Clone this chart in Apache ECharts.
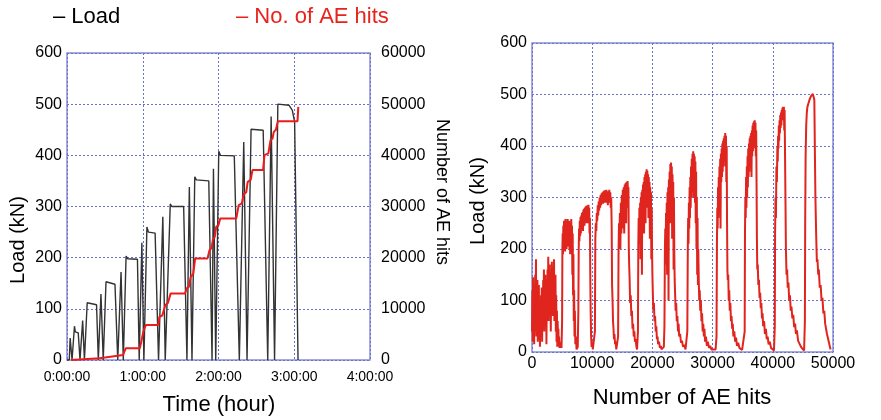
<!DOCTYPE html>
<html>
<head>
<meta charset="utf-8">
<script src="https://cdn.jsdelivr.net/npm/echarts@6/dist/echarts.min.js"></script>
<style>
html,body{margin:0;padding:0;background:#fff;}
#mybox{width:881px;height:420px;}
</style>
</head>
<body>
<div id="mybox"></div>
<script>
/* load & AE hits vs time (left), load vs AE hits (right) */

// left chart: time in minutes
var timeTicks = [0, 60, 120, 180, 240];
var loadCurve = [
  [0,0],[1.8,0],[2.5,43],[4.0,0],[5.9,66],[6.6,55],[8.9,53],[10.3,0],[12.4,77],[13.8,0],
  [16.0,112],[17.0,110],[23.4,108],[24.8,0],[26.9,129],[28.7,0],[30.9,153],[32.0,150],[38.0,148],[40.2,0],
  [42.8,172],[44.6,0],[46.8,203],[48.0,198],[55.8,197],[57.2,0],[59.3,229],[60.9,0],[63.3,260],[64.5,250],
  [69.8,248],[72.5,0],[75.9,280],[77.8,0],[81.8,305],[83.0,300],[92.4,300],[95.0,0],[96.9,338],[99.0,0],
  [101.2,358],[102.5,352],[112.3,350],[114.9,0],[116.0,374],[117.8,0],[120.2,408],[121.5,400],[132.5,399],[136.5,0],
  [140.0,426],[142.6,0],[145.8,451],[155.4,449],[159.0,0],[161.7,476],[164.4,0],[167.0,500],[175.8,498],[178.5,488],
  [180.3,465],[183.0,0]
];
var hitsCurve = [
  [3.3,0],[25.9,330],[44.4,980],[45.2,1500],[46.6,2300],[57.7,2300],[58.6,3300],[60.5,5600],[62.5,6840],[72.3,6840],
  [73.2,8460],[75.5,8700],[76.3,9440],[78.0,10740],[80.0,11200],[82.1,13020],[93.5,13020],[94.9,14000],[96.5,14300],[98.0,16270],
  [100.0,16800],[101.5,19860],[111.3,19860],[112.9,21480],[114.5,21900],[115.6,23570],[117.0,24000],[118.2,26040],[120.0,26400],[121.4,27670],
  [134.1,27670],[136.0,30270],[138.5,30600],[140.0,32420],[142.0,32800],[143.1,34830],[145.5,35200],[146.9,37110],[155.3,37110],[156.4,40040],
  [159.5,40400],[161.2,42970],[162.8,43300],[163.8,44590],[165.5,45000],[167.0,46680],[182.6,46680],[183.2,49470]
];

// right chart: [number of AE hits, load kN]
var loadVsHits = [
  [0,40],[60,120],[120,20],[180,145],[240,60],[300,110],[360,15],[420,130],[480,40],[540,150],[600,70],[660,180],[720,30],[780,120],
  [840,50],[900,140],[960,20],[1020,100],[1080,60],[1140,130],[1200,25],[1260,90],[1320,10],[1380,80],[1440,30],[1500,110],[1560,45],
  [1620,125],[1680,20],[1740,95],[1800,50],[1860,140],[1920,70],[1980,160],[2040,40],[2100,120],[2160,80],[2220,150],[2280,60],[2340,130],
  [2400,15],[2460,110],[2520,70],[2580,160],[2640,90],[2700,185],[2760,60],[2820,140],[2880,100],[2940,170],[3000,80],[3060,150],[3120,40],
  [3180,120],[3240,90],[3300,175],[3360,110],[3420,165],[3480,70],[3540,140],[3600,100],[3660,180],[3720,60],[3780,130],[3840,90],[3900,150],
  [3960,40],[4020,110],[4080,20],[4140,80],[4200,10],[4260,60],[4320,25],[4380,45],[4440,12],[4500,30],[4560,8],[4620,20],[4700,10],
  [4800,15],[4900,8],[5000,60],[5050,200],[5100,230],[5150,190],[5200,245],[5260,200],[5320,255],[5380,210],[5440,250],[5500,195],[5560,258],
  [5620,215],[5680,250],[5740,200],[5800,255],[5860,220],[5920,258],[5980,205],[6040,250],[6100,215],[6160,255],[6220,200],[6280,245],
  [6340,190],[6400,250],[6460,215],[6520,258],[6580,210],[6640,245],[6700,150],[6760,230],[6820,110],[6880,190],[6940,60],[7000,120],
  [7060,30],[7120,80],[7200,15],[7300,30],[7400,5],
  [7600,10],[7700,80],[7760,200],[7820,240],[7880,215],[7940,255],[8000,225],[8060,262],[8120,230],[8180,265],[8240,240],[8300,270],
  [8360,245],[8420,272],[8480,235],[8540,276],[8600,250],[8660,278],[8720,245],[8780,280],[8840,255],[8900,282],[8960,250],[9020,284],
  [9080,260],[9140,282],[9200,250],[9260,285],[9320,265],[9380,286],[9440,255],[9500,280],[9560,230],[9620,260],[9680,150],[9740,80],
  [9820,30],[9900,10],[10000,20],[10100,5],
  [10300,5],[10450,40],[10520,220],[10600,250],[10680,235],[10760,270],[10840,255],[10920,285],[11000,265],[11080,292],[11160,275],
  [11240,300],[11320,280],[11400,305],[11480,285],[11560,308],[11640,290],[11720,310],[11800,288],[11880,312],[11960,292],[12040,314],
  [12120,290],[12200,312],[12280,295],[12360,315],[12440,290],[12520,310],[12600,285],[12680,312],[12760,295],[12840,315],[12920,290],
  [13000,310],[13080,280],[13160,300],[13240,240],[13300,130],[13380,100],[13460,60],[13540,45],[13620,25],[13700,35],[13800,15],
  [13900,20],[14000,5],[14100,8],
  [14200,5],[14300,30],[14380,200],[14450,250],[14520,220],[14600,270],[14680,200],[14760,290],[14840,230],[14920,305],[15000,240],
  [15080,315],[15160,260],[15240,320],[15320,230],[15400,325],[15480,270],[15560,328],[15640,250],[15720,330],[15800,280],[15880,332],
  [15960,300],[16020,320],[16080,200],[16140,170],[16220,140],[16300,95],[16400,110],[16500,70],[16600,80],[16700,45],[16800,55],
  [16900,30],[17000,40],[17100,20],[17200,25],[17350,10],[17450,5],
  [17500,8],[17600,40],[17660,210],[17720,260],[17780,220],[17840,280],[17900,210],[17960,290],[18020,180],[18080,300],[18140,240],
  [18200,310],[18260,150],[18320,315],[18380,250],[18440,325],[18500,260],[18560,330],[18620,230],[18680,340],[18740,270],[18800,345],
  [18860,250],[18920,350],[18980,290],[19040,355],[19100,280],[19160,352],[19220,300],[19280,345],[19340,260],[19400,340],[19460,280],
  [19520,330],[19580,220],[19640,320],[19700,250],[19760,310],[19820,180],[19880,280],[19940,200],[20000,150],[20060,120],[20150,80],
  [20250,95],[20350,60],[20450,70],[20550,40],[20650,50],[20750,25],[20850,30],[20950,15],[21100,20],[21250,8],[21400,12],[21500,5],
  [21900,10],[22000,50],[22080,200],[22140,240],[22200,170],[22260,270],[22320,200],[22380,290],[22440,150],[22500,310],[22560,230],
  [22620,320],[22680,100],[22740,335],[22800,260],[22860,350],[22920,280],[22980,365],[23040,250],[23100,368],[23160,300],[23220,360],
  [23280,220],[23340,345],[23400,270],[23460,330],[23520,160],[23580,300],[23640,190],[23700,140],[23780,110],[23860,80],[23950,95],
  [24050,60],[24150,70],[24250,40],[24350,55],[24450,30],[24600,35],[24750,18],[24900,22],[25100,10],[25300,14],[25500,5],[25650,3],
  [25700,5],[25800,40],[25880,200],[25940,260],[26000,210],[26060,290],[26120,240],[26180,320],[26240,260],[26300,340],[26360,280],
  [26420,360],[26480,300],[26540,375],[26600,310],[26660,385],[26720,330],[26780,390],[26840,300],[26900,385],[26960,320],[27020,380],
  [27080,290],[27140,370],[27200,250],[27260,350],[27320,200],[27380,300],[27440,150],[27500,260],[27560,130],[27620,200],[27700,140],
  [27780,100],[27860,120],[27950,80],[28050,100],[28150,60],[28250,75],[28350,40],[28450,55],[28550,30],[28650,45],[28750,20],
  [28900,30],[29050,12],[29200,20],[29400,8],[29600,12],[29800,5],[30000,3],
  [30500,5],[30650,30],[30720,210],[30780,280],[30840,240],[30900,320],[30960,260],[31020,340],[31080,290],[31140,360],[31200,300],
  [31260,375],[31320,240],[31380,385],[31440,330],[31500,395],[31560,340],[31620,405],[31680,350],[31740,410],[31800,360],[31860,415],
  [31920,370],[31980,420],[32040,380],[32100,425],[32160,360],[32220,420],[32280,330],[32340,400],[32400,250],[32460,160],[32520,140],
  [32600,150],[32680,100],[32760,120],[32850,80],[32950,95],[33050,60],[33150,70],[33250,45],[33350,55],[33450,30],[33600,40],
  [33750,20],[33900,28],[34050,12],[34250,18],[34450,8],[34700,10],[34900,4],[35100,2],
  [35200,3],[35330,40],[35380,230],[35440,300],[35500,260],[35560,340],[35620,280],[35680,360],[35740,300],[35800,380],[35860,320],
  [35920,395],[35980,340],[36040,405],[36100,350],[36160,415],[36220,360],[36280,420],[36340,370],[36400,425],[36460,340],[36520,430],
  [36580,380],[36640,440],[36700,390],[36760,445],[36820,400],[36880,448],[36940,410],[37000,450],[37060,395],[37120,445],[37180,380],
  [37240,430],[37300,330],[37360,220],[37420,160],[37500,170],[37600,130],[37700,140],[37800,105],[37900,115],[38000,85],[38100,95],
  [38200,65],[38300,75],[38400,50],[38550,60],[38700,35],[38850,45],[39000,25],[39150,30],[39300,15],[39500,20],[39700,8],[39900,5],
  [40200,3],[40330,50],[40380,230],[40450,300],[40520,260],[40600,360],[40680,330],[40760,400],[40820,370],[40880,420],[40940,395],
  [41000,440],[41060,410],[41120,450],[41180,425],[41240,460],[41300,435],[41360,465],[41420,440],[41480,470],[41540,450],[41600,474],
  [41660,455],[41720,476],[41780,460],[41840,476],[41900,430],[41960,470],[42020,400],[42100,300],[42180,200],[42280,150],[42380,160],
  [42480,125],[42600,135],[42720,100],[42850,110],[42980,80],[43100,88],[43250,65],[43400,72],[43550,48],[43700,55],[43850,35],
  [44000,42],[44200,22],[44400,25],[44600,12],[44800,8],[45000,5],
  [45200,3],[45330,60],[45380,250],[45450,380],[45550,440],[45650,465],[45750,476],[45900,482],[46050,488],[46200,493],[46350,497],
  [46500,500],[46650,501],[46800,500],[46900,490],[47000,380],[47080,300],[47200,230],[47320,175],[47420,180],[47550,150],[47650,160],
  [47800,125],[47950,130],[48100,100],[48250,105],[48400,75],[48550,80],[48700,55],[48850,58],[49000,35],[49150,38],[49300,20],
  [49450,12],[49600,5]
];

var fontName = 'Liberation Sans, Arial, sans-serif';
var frameColor = '#8a8fd6';
var gridColor = '#6a70d0';

function timeLabel(v){
  var h = Math.floor(v / 60);
  var m = v % 60;
  return h + ':' + (m < 10 ? '0' + m : m) + ':00';
}
function plainNum(v){
  return String(v);
}

var mycharts = echarts.init(document.getElementById('mybox'));

var option = {
  animation: false,
  backgroundColor: '#fff',
  textStyle: {fontFamily: fontName},
  grid: [
    {left: 67, top: 53, width: 303, height: 307, show: true, borderColor: frameColor, borderWidth: 1.5, backgroundColor: '#fff'},
    {left: 532, top: 43, width: 301, height: 309, show: true, borderColor: frameColor, borderWidth: 1.5, backgroundColor: '#fff'}
  ],
  xAxis: [
    {
      type: 'value', gridIndex: 0, min: timeTicks[0], max: timeTicks[timeTicks.length - 1], interval: 60,
      axisLine: {show: false}, axisTick: {show: false},
      axisLabel: {formatter: timeLabel, fontSize: 14, color: '#000', margin: 10, fontFamily: fontName},
      splitLine: {show: true, lineStyle: {type: [2, 2], color: gridColor, width: 1}}
    },
    {
      type: 'value', gridIndex: 1, min: 0, max: 50000, interval: 10000,
      axisLine: {show: false}, axisTick: {show: false},
      axisLabel: {formatter: plainNum, fontSize: 16, color: '#000', margin: 4, fontFamily: fontName},
      splitLine: {show: true, lineStyle: {type: [2, 2], color: gridColor, width: 1}}
    }
  ],
  yAxis: [
    {
      type: 'value', gridIndex: 0, min: 0, max: 600, interval: 100,
      axisLine: {show: false}, axisTick: {show: false},
      axisLabel: {formatter: plainNum, fontSize: 16, color: '#000', margin: 5, fontFamily: fontName},
      splitLine: {show: true, lineStyle: {type: [2, 2], color: gridColor, width: 1}}
    },
    {
      type: 'value', gridIndex: 0, position: 'right', min: 0, max: 60000, interval: 10000,
      axisLine: {show: false}, axisTick: {show: false},
      axisLabel: {formatter: plainNum, fontSize: 16, color: '#000', margin: 11, fontFamily: fontName},
      splitLine: {show: false}
    },
    {
      type: 'value', gridIndex: 1, min: 0, max: 600, interval: 100,
      axisLine: {show: false}, axisTick: {show: false},
      axisLabel: {formatter: plainNum, fontSize: 16, color: '#000', margin: 5, fontFamily: fontName},
      splitLine: {show: true, lineStyle: {type: [2, 2], color: gridColor, width: 1}}
    }
  ],
  series: [
    {
      name: 'Load', type: 'line', xAxisIndex: 0, yAxisIndex: 0, data: loadCurve,
      showSymbol: false, lineStyle: {color: '#333', width: 1.4}
    },
    {
      name: 'No. of AE hits', type: 'line', xAxisIndex: 0, yAxisIndex: 1, data: hitsCurve,
      showSymbol: false, lineStyle: {color: '#ec1c1c', width: 2}
    },
    {
      name: 'Load vs hits', type: 'line', xAxisIndex: 1, yAxisIndex: 2, data: loadVsHits,
      showSymbol: false, lineStyle: {color: '#e0241e', width: 2}
    }
  ],
  graphic: [
    {type: 'text', x: 53, y: 17, style: {text: '– Load', font: '22px ' + fontName, fill: '#000', textVerticalAlign: 'middle'}},
    {type: 'text', x: 236, y: 17, style: {text: '– No. of AE hits', font: '22px ' + fontName, fill: '#e8231c', textVerticalAlign: 'middle'}},
    {type: 'text', x: 18, y: 240, rotation: Math.PI / 2, style: {text: 'Load (kN)', font: '20px ' + fontName, fill: '#000', textAlign: 'center', textVerticalAlign: 'middle'}},
    {type: 'text', x: 219, y: 405, style: {text: 'Time (hour)', font: '22px ' + fontName, fill: '#000', textAlign: 'center', textVerticalAlign: 'middle'}},
    {type: 'text', x: 442, y: 192, rotation: -Math.PI / 2, style: {text: 'Number of AE hits', font: '18px ' + fontName, fill: '#000', textAlign: 'center', textVerticalAlign: 'middle'}},
    {type: 'text', x: 478, y: 201, rotation: Math.PI / 2, style: {text: 'Load (kN)', font: '20px ' + fontName, fill: '#000', textAlign: 'center', textVerticalAlign: 'middle'}},
    {type: 'text', x: 682, y: 398, style: {text: 'Number of AE hits', font: '22px ' + fontName, fill: '#000', textAlign: 'center', textVerticalAlign: 'middle'}}
  ]
};

mycharts.setOption(option);
</script>
</body>
</html>
